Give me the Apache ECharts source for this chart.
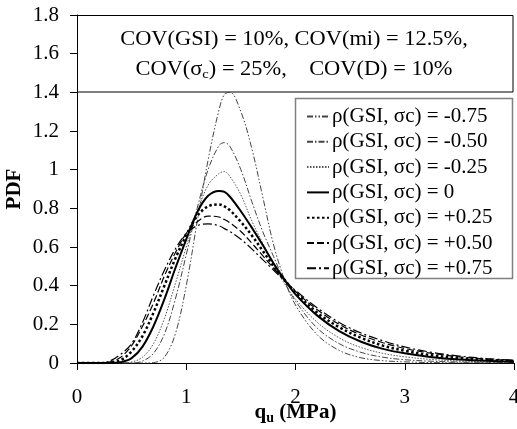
<!DOCTYPE html>
<html>
<head>
<meta charset="utf-8">
<script src="https://cdn.jsdelivr.net/npm/echarts@6/dist/echarts.min.js"></script>
<style>
html,body{margin:0;padding:0;background:#fff;}
#chart{width:517px;height:429px;}
</style>
</head>
<body>
<div id="chart"></div>
<script>
// x positions (qu, MPa)
var xValues = [0, 0.2, 0.3, 0.4, 0.5, 0.6, 0.7, 0.8, 0.9, 1.0, 1.1, 1.2, 1.3, 1.35, 1.4, 1.5, 1.6, 1.7, 1.8, 1.9, 2.0, 2.2, 2.4, 2.6, 2.8, 3.0, 3.25, 3.5, 3.75, 4.0];

var seriesNames = [
  'ρ(GSI, σc) = -0.75',
  'ρ(GSI, σc) = -0.50',
  'ρ(GSI, σc) = -0.25',
  'ρ(GSI, σc) = 0',
  'ρ(GSI, σc) = +0.25',
  'ρ(GSI, σc) = +0.50',
  'ρ(GSI, σc) = +0.75'
];

var pdfM075 = [0, 0, 0, 0, 0, 0, 0.002, 0.03, 0.15, 0.40, 0.73, 1.05, 1.31, 1.39, 1.40, 1.30, 1.11, 0.86, 0.61, 0.43, 0.30, 0.145, 0.065, 0.027, 0.012, 0.006, 0.002, 0.001, 0, 0];
var pdfM050 = [0, 0, 0, 0, 0, 0.01, 0.05, 0.15, 0.33, 0.56, 0.80, 1.00, 1.125, 1.14, 1.12, 1.00, 0.835, 0.68, 0.55, 0.42, 0.32, 0.18, 0.10, 0.055, 0.03, 0.017, 0.009, 0.005, 0.003, 0.002];
var pdfM025 = [0, 0, 0, 0, 0.005, 0.03, 0.10, 0.23, 0.41, 0.60, 0.78, 0.92, 0.98, 0.99, 0.965, 0.87, 0.735, 0.62, 0.51, 0.41, 0.33, 0.21, 0.13, 0.08, 0.05, 0.032, 0.018, 0.01, 0.006, 0.003];
var pdfZero = [0, 0, 0, 0.004, 0.025, 0.085, 0.19, 0.33, 0.49, 0.64, 0.78, 0.865, 0.89, 0.885, 0.86, 0.785, 0.70, 0.61, 0.515, 0.43, 0.355, 0.245, 0.165, 0.11, 0.073, 0.05, 0.03, 0.018, 0.011, 0.007];
var pdfP025 = [0, 0, 0.002, 0.015, 0.06, 0.14, 0.26, 0.40, 0.54, 0.66, 0.76, 0.81, 0.82, 0.81, 0.79, 0.73, 0.66, 0.58, 0.50, 0.43, 0.365, 0.26, 0.185, 0.13, 0.09, 0.063, 0.04, 0.025, 0.016, 0.01];
var pdfP050 = [0, 0, 0.005, 0.03, 0.09, 0.19, 0.31, 0.45, 0.57, 0.67, 0.73, 0.76, 0.755, 0.742, 0.725, 0.68, 0.62, 0.555, 0.49, 0.43, 0.37, 0.275, 0.20, 0.145, 0.105, 0.075, 0.05, 0.032, 0.02, 0.013];
var pdfP075 = [0, 0, 0.01, 0.045, 0.10, 0.21, 0.35, 0.48, 0.59, 0.67, 0.71, 0.72, 0.71, 0.695, 0.68, 0.64, 0.59, 0.535, 0.48, 0.425, 0.375, 0.285, 0.21, 0.155, 0.115, 0.083, 0.055, 0.036, 0.023, 0.015];

var yTicks = [0, 0.2, 0.4, 0.6, 0.8, 1, 1.2, 1.4, 1.6, 1.8];
var xTicks = [0, 1, 2, 3, 4];

var allValues = [pdfM075, pdfM050, pdfM025, pdfZero, pdfP025, pdfP050, pdfP075];
var styles = [
  {color: '#444', width: 1, type: [6, 2, 1.5, 2, 1.5, 2]},
  {color: '#444', width: 1, type: [6, 2, 1.5, 2]},
  {color: '#555', width: 1, type: [1.5, 1.5]},
  {color: '#000', width: 2, type: 'solid'},
  {color: '#000', width: 2.5, type: [2.5, 2.5]},
  {color: '#000', width: 1.2, type: [7, 3]},
  {color: '#000', width: 1.2, type: [9, 3, 2, 3]}
];

var FONT = '"Liberation Serif", "Times New Roman", serif';

function pairs(vals) {
  return xValues.map(function (x, i) { return [x, vals[i]]; });
}

var series = allValues.map(function (vals, i) {
  return {
    name: seriesNames[i],
    type: 'line',
    data: pairs(vals),
    smooth: 0.35,
    symbol: 'none',
    lineStyle: styles[i],
    itemStyle: {color: styles[i].color},
    emphasis: {disabled: true},
    z: 3
  };
});

var chart = echarts.init(document.getElementById('chart'), null, {renderer: 'canvas'});
chart.setOption({
  animation: false,
  backgroundColor: '#fff',
  textStyle: {fontFamily: FONT, color: '#000'},
  grid: {left: 77, right: 3, top: 15, bottom: 66, containLabel: false, outerBoundsMode: 'none'},
  xAxis: {
    type: 'value',
    min: xTicks[0], max: xTicks[xTicks.length - 1], interval: 1,
    name: '{b|q}{s|u}{b| (MPa)}',
    nameLocation: 'middle',
    nameGap: 38,
    nameMoveOverlap: false,
    nameTextStyle: {
      rich: {
        b: {fontFamily: FONT, fontSize: 21, fontWeight: 'bold', color: '#000'},
        s: {fontFamily: FONT, fontSize: 14, fontWeight: 'bold', color: '#000', verticalAlign: 'bottom', padding: [10, 0, 0, 0]}
      }
    },
    axisLine: {show: true, onZero: false, lineStyle: {color: '#000', width: 1}},
    axisTick: {show: true, inside: false, length: 7, lineStyle: {color: '#000'}},
    axisLabel: {fontFamily: FONT, fontSize: 21, color: '#000', margin: 24},
    splitLine: {show: false}
  },
  yAxis: {
    type: 'value',
    min: yTicks[0], max: yTicks[yTicks.length - 1], interval: 0.2,
    name: 'PDF',
    nameLocation: 'middle',
    nameGap: 52,
    nameMoveOverlap: false,
    nameRotate: 90,
    nameTextStyle: {fontFamily: FONT, fontSize: 21, fontWeight: 'bold', color: '#000'},
    axisLine: {show: true, lineStyle: {color: '#000', width: 1}},
    axisTick: {show: true, inside: false, length: 7, lineStyle: {color: '#000'}},
    axisLabel: {fontFamily: FONT, fontSize: 21, color: '#000', margin: 18},
    splitLine: {show: false}
  },
  legend: {
    orient: 'vertical',
    left: 306,
    top: 106,
    itemWidth: 22,
    itemHeight: 14,
    itemGap: 4.3,
    padding: 0,
    itemStyle: {opacity: 0},
    textStyle: {fontFamily: FONT, fontSize: 21, color: '#000', lineHeight: 20, padding: [0, 0, 0, -2]},
    data: seriesNames,
    selectedMode: false
  },
  graphic: [
    {
      type: 'rect', z: 1,
      shape: {x: 77.5, y: 15.5, width: 435.5, height: 76.5},
      style: {fill: 'none', stroke: '#000', lineWidth: 1}
    },
    {
      type: 'text', z: 5,
      x: 294, y: 40, scaleX: 1.12,
      style: {text: 'COV(GSI) = 10%, COV(mi) = 12.5%,', font: '20px ' + FONT, fill: '#000', align: 'center', verticalAlign: 'middle'}
    },
    {
      type: 'text', z: 5,
      x: 294, y: 70, scaleX: 1.12,
      style: {
        text: '{n|COV(σ}{s|c}{n|) = 25%,    COV(D) = 10%}',
        align: 'center', verticalAlign: 'middle',
        rich: {
          n: {font: '20px ' + FONT, fill: '#000'},
          s: {font: '13px ' + FONT, fill: '#000', verticalAlign: 'bottom', padding: [10, 0, 0, 0]}
        }
      }
    },
    {
      type: 'rect', z: 1,
      shape: {x: 295.5, y: 98.5, width: 217, height: 180},
      style: {fill: '#fff', stroke: '#808080', lineWidth: 1.5}
    }
  ],
  series: series
});
</script>
</body>
</html>
